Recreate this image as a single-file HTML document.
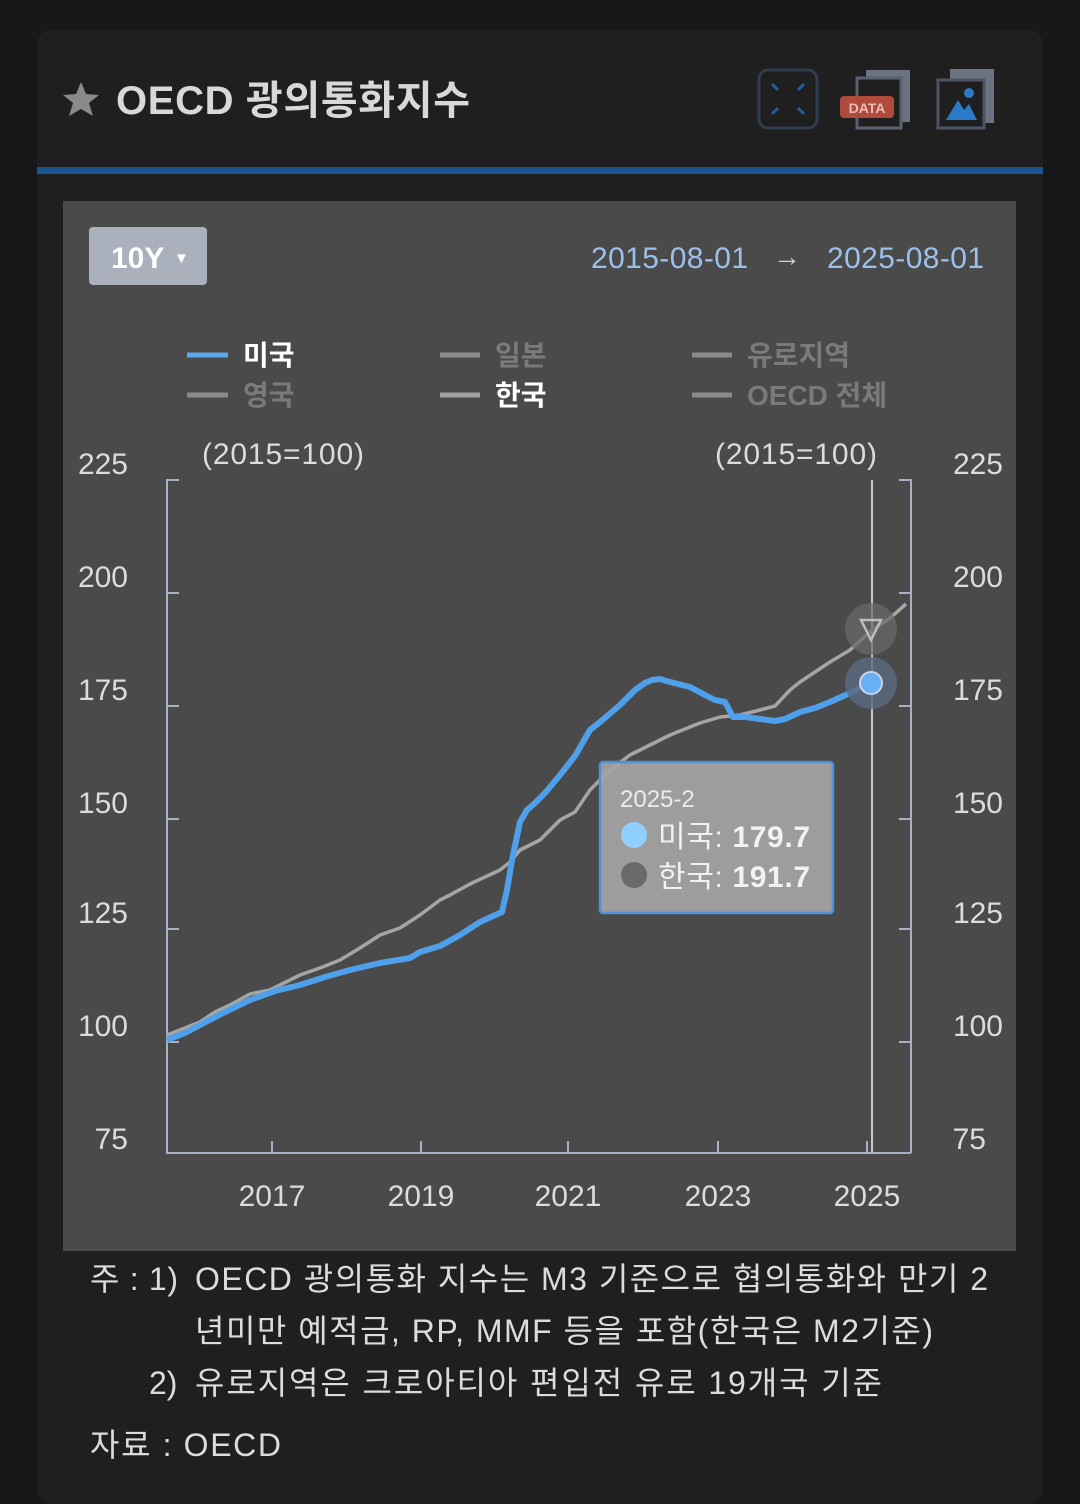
<!DOCTYPE html>
<html><head><meta charset="utf-8"><style>
html,body{margin:0;padding:0;background:#17181a;}
svg{display:block}
text{font-family:"Liberation Sans","Noto Sans CJK KR",sans-serif;}
</style></head><body>
<svg width="1080" height="1504" viewBox="0 0 1080 1504" xmlns="http://www.w3.org/2000/svg">
<rect x="0" y="0" width="1080" height="1504" fill="#17181a"/>
<rect x="37" y="30" width="1006" height="1474" rx="14" fill="#1f1f1f"/>
<!-- header -->
<polygon points="81,82 86,94 99,95 89,103 93,116 81,109 69,116 73,103 63,95 76,94" fill="#8a8a8a"/>
<text x="116" y="114" font-size="40" font-weight="bold" fill="#d8d8d8" textLength="354">OECD 광의통화지수</text>
<rect x="759" y="70" width="58" height="58" rx="9" fill="none" stroke="#2f3d4f" stroke-width="3"/>
<g stroke="#1e5ea0" stroke-width="3"><line x1="772" y1="84" x2="778" y2="90"/><line x1="804" y1="84" x2="798" y2="90"/><line x1="772" y1="114" x2="778" y2="108"/><line x1="804" y1="114" x2="798" y2="108"/></g>
<rect x="866" y="70" width="44" height="52" fill="#6b7380"/>
<rect x="857" y="78" width="44" height="50" fill="#1f1f1f" stroke="#5a6170" stroke-width="3"/>
<rect x="840" y="96" width="54" height="22" rx="4" fill="#b04a3c"/>
<text x="867" y="113" font-size="14" font-weight="bold" fill="#e8c0b8" text-anchor="middle">DATA</text>
<rect x="950" y="69" width="44" height="54" fill="#6b7380"/>
<rect x="938" y="80" width="46" height="48" fill="#1f1f1f" stroke="#4d5564" stroke-width="3"/>
<polygon points="946,120 958,100 964,110 969,104 977,120" fill="#2a7ac8"/>
<circle cx="969" cy="93" r="5" fill="#2a7ac8"/>
<rect x="37" y="167" width="1006" height="7" fill="#1d5592"/>
<!-- chart panel -->
<rect x="63" y="201" width="953" height="1050" fill="#4a4a4a"/>
<rect x="89" y="227" width="118" height="58" rx="4" fill="#aab0bc"/>
<text x="111" y="268" font-size="30" font-weight="bold" fill="#fff">10Y</text>
<text x="174" y="263" font-size="15" fill="#fff">▼</text>
<text x="591" y="268" font-size="30" fill="#9cc0ea" textLength="157">2015-08-01</text>
<text x="773" y="266" font-size="28" fill="#cfcfcf">→</text>
<text x="827" y="268" font-size="30" fill="#9cc0ea" textLength="157">2025-08-01</text>
<!-- legend -->
<g font-size="28" font-weight="bold">
<line x1="187" y1="355" x2="228" y2="355" stroke="#5aa8ee" stroke-width="5"/><text x="243" y="365" fill="#fff">미국</text>
<line x1="440" y1="355" x2="480" y2="355" stroke="#8a8a8a" stroke-width="5"/><text x="495" y="365" fill="#7a7a7a">일본</text>
<line x1="692" y1="355" x2="732" y2="355" stroke="#8a8a8a" stroke-width="5"/><text x="747" y="365" fill="#7a7a7a">유로지역</text>
<line x1="187" y1="395" x2="228" y2="395" stroke="#8a8a8a" stroke-width="5"/><text x="243" y="405" fill="#7a7a7a">영국</text>
<line x1="440" y1="395" x2="480" y2="395" stroke="#a0a0a0" stroke-width="5"/><text x="495" y="405" fill="#fff">한국</text>
<line x1="692" y1="395" x2="732" y2="395" stroke="#8a8a8a" stroke-width="5"/><text x="747" y="405" fill="#7a7a7a">OECD 전체</text>
</g>
<g font-size="30" fill="#dcdcdc">
<text x="202" y="464" textLength="162">(2015=100)</text>
<text x="715" y="464" textLength="162">(2015=100)</text>
<g text-anchor="end">
<text x="128" y="474">225</text><text x="128" y="587">200</text><text x="128" y="700">175</text><text x="128" y="813">150</text><text x="128" y="923">125</text><text x="128" y="1036">100</text><text x="128" y="1149">75</text>
<text x="1003" y="474">225</text><text x="1003" y="587">200</text><text x="1003" y="700">175</text><text x="1003" y="813">150</text><text x="1003" y="923">125</text><text x="1003" y="1036">100</text><text x="986" y="1149">75</text>
</g>
<g text-anchor="middle">
<text x="272" y="1206">2017</text><text x="421" y="1206">2019</text><text x="568" y="1206">2021</text><text x="718" y="1206">2023</text><text x="867" y="1206">2025</text>
</g>
</g>
<!-- axes -->
<g stroke="#a8b0c4" stroke-width="2" fill="none">
<polyline points="179,480 167,480 167,1153 911,1153"/>
<polyline points="899,480 911,480 911,1153"/>
<path d="M167,593h12M167,706h12M167,819h12M167,929h12M167,1042h12M911,593h-12M911,706h-12M911,819h-12M911,929h-12M911,1042h-12M272,1153v-12M421,1153v-12M568,1153v-12M718,1153v-12M867,1153v-12"/>
</g>
<line x1="872" y1="480" x2="872" y2="1153" stroke="#c8c8c8" stroke-width="2"/>
<!-- series -->
<polyline fill="none" stroke="#a5a5a5" stroke-width="3.5" stroke-linejoin="round" points="167,1035 185,1028 200,1022 215,1012 230,1005 250,994 270,990 290,980 300,975 320,968 340,960 360,948 380,935 400,928 420,915 440,900 450,895 470,884 500,870 510,862 520,850 540,840 560,820 575,812 590,790 610,770 630,755 650,745 670,735 700,723 720,717 740,715 760,710 775,706 790,690 800,682 815,672 830,662 850,650 872,630 890,618 906,604"/>
<polyline fill="none" stroke="#4fa0ea" stroke-width="6" stroke-linejoin="round" points="167,1040 185,1033 200,1025 225,1012 250,1000 275,991 300,985 325,977 350,970 380,963 410,958 420,952 440,946 460,935 480,922 502,912 507,890 512,860 520,822 527,810 535,803 545,793 560,775 575,756 590,730 600,722 620,705 635,690 645,683 652,680 660,679 670,682 690,687 705,695 715,700 725,702 733,717 745,717 760,719 775,721 785,719 800,712 815,708 830,702 850,693 872,682"/>
<!-- markers -->
<circle cx="871" cy="629" r="26" fill="#6a6a6a" opacity="0.7"/>
<polygon points="861,620 881,620 871,640" fill="none" stroke="#bdbdbd" stroke-width="2.5"/>
<circle cx="871" cy="683" r="26" fill="#5a6a80" opacity="0.8"/>
<circle cx="871" cy="683" r="11" fill="#66b0f5" stroke="#c8d4e4" stroke-width="2"/>
<!-- tooltip -->
<rect x="600" y="762" width="233" height="151" rx="3" fill="#a4a4a4" fill-opacity="0.92" stroke="#4f90d8" stroke-width="2.5"/>
<text x="620" y="807" font-size="24" fill="#ececec">2025-2</text>
<circle cx="634" cy="835" r="13" fill="#8fd0ff"/>
<text x="658" y="847" font-size="30" fill="#f2f2f2" textLength="152">미국: <tspan font-weight="bold">179.7</tspan></text>
<circle cx="634" cy="875" r="13" fill="#6a6a6a"/>
<text x="658" y="887" font-size="30" fill="#f2f2f2" textLength="152">한국: <tspan font-weight="bold">191.7</tspan></text>
<!-- footnotes -->
<g font-size="32" fill="#dcdcdc">
<text x="90" y="1290" textLength="88">주 : 1)</text>
<text x="195" y="1290" textLength="793">OECD 광의통화 지수는 M3 기준으로 협의통화와 만기 2</text>
<text x="195" y="1342" textLength="738">년미만 예적금, RP, MMF 등을 포함(한국은 M2기준)</text>
<text x="149" y="1394">2)</text>
<text x="195" y="1394" textLength="687">유로지역은 크로아티아 편입전 유로 19개국 기준</text>
<text x="90" y="1456" textLength="191">자료 :  OECD</text>
</g>
</svg>
</body></html>
